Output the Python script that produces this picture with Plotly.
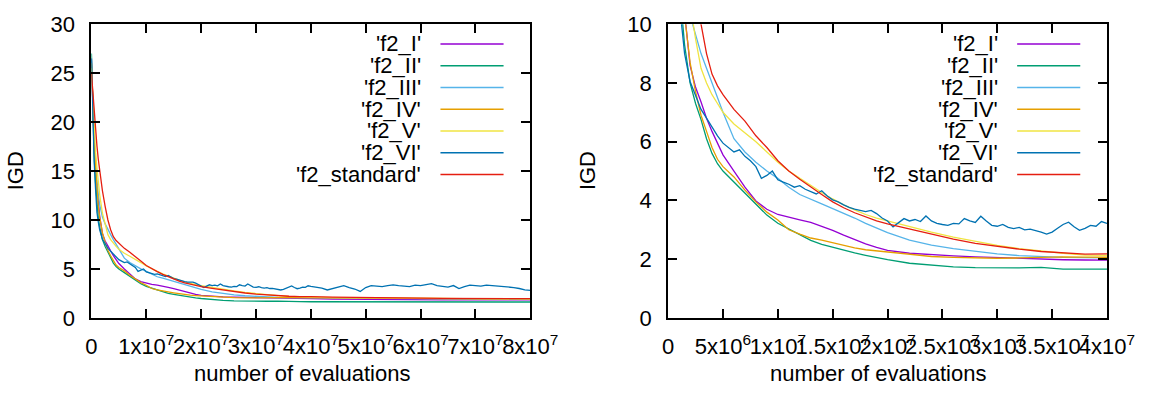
import plotly.graph_objects as go

# ---------------- data (x in millions of evaluations) ----------------
X_M = [0, 0.25, 0.5, 0.75, 1, 1.25, 1.5, 2, 2.5, 3, 3.5, 4, 4.5, 5,
       6, 7, 8, 9, 10, 11, 12, 13, 14, 15, 16, 17, 18, 19, 20,
       22, 24, 26, 28, 30, 32, 34, 36, 38, 40,
       44, 48, 52, 56, 60, 64, 68, 72, 76, 80]

F2_I = [26.5, 21.0, 17.5, 15.0, 13.2, 11.6, 10.4, 8.6, 7.85, 7.35, 6.8, 6.35, 5.95, 5.55,
        5.0, 4.45, 3.98, 3.7, 3.52, 3.42, 3.34, 3.25, 3.12, 2.98, 2.82, 2.67, 2.52, 2.4, 2.3,
        2.2, 2.15, 2.11, 2.08, 2.05, 2.02, 2.0, 1.98, 1.97, 1.97,
        1.93, 1.9, 1.88, 1.87, 1.86, 1.85, 1.85, 1.84, 1.84, 1.84]

F2_II = [27.0, 20.5, 16.5, 13.8, 11.4, 10.2, 9.3, 8.0, 7.3, 6.75, 6.1, 5.6, 5.25, 5.0,
         4.62, 4.25, 3.85, 3.5, 3.22, 3.02, 2.82, 2.64, 2.5, 2.4, 2.3, 2.21, 2.13, 2.05, 1.98,
         1.86, 1.79, 1.74, 1.71, 1.7, 1.7, 1.72, 1.66, 1.66, 1.65,
         1.65, 1.64, 1.64, 1.63, 1.63, 1.63, 1.62, 1.62, 1.62, 1.62]

F2_III = [26.0, 21.5, 18.0, 15.5, 13.8, 12.6, 11.6, 10.3, 9.6, 9.0, 8.5, 8.0, 7.5, 7.0,
          6.1, 5.65, 5.3, 5.0, 4.75, 4.45, 4.2, 4.05, 3.88, 3.72, 3.57, 3.4, 3.22, 3.05, 2.9,
          2.65, 2.48, 2.36, 2.26, 2.18, 2.12, 2.08, 2.06, 2.05, 2.04,
          2.0, 1.97, 1.95, 1.94, 1.93, 1.92, 1.92, 1.91, 1.9, 1.9]

F2_IV = [26.0, 21.5, 18.0, 15.5, 13.2, 11.4, 10.3, 8.7, 7.7, 6.9, 6.35, 5.8, 5.4, 5.15,
         4.8, 4.35, 3.95, 3.6, 3.33, 3.0, 2.85, 2.72, 2.65, 2.56, 2.46, 2.38, 2.32, 2.28, 2.24,
         2.15, 2.09, 2.06, 2.04, 2.03, 2.04, 2.06, 2.08, 2.07, 2.06,
         2.03, 2.0, 1.98, 1.97, 1.96, 1.95, 1.95, 1.94, 1.94, 1.94]

F2_V = [25.5, 22.5, 19.5, 17.0, 15.3, 13.8, 12.6, 10.7, 9.5, 8.5, 8.0, 7.6, 7.3, 7.0,
        6.6, 6.3, 6.0, 5.65, 5.3, 5.0, 4.75, 4.5, 4.27, 4.05, 3.85, 3.68, 3.52, 3.4, 3.3,
        3.1, 2.92, 2.75, 2.6, 2.47, 2.36, 2.27, 2.2, 2.14, 2.12,
        2.07, 2.04, 2.02, 2.0, 1.99, 1.98, 1.97, 1.97, 1.96, 1.95]

F2_STANDARD = [25.0, 23.0, 21.0, 19.3, 17.6, 16.2, 15.0, 13.0, 11.4, 10.0, 9.0, 8.3, 7.9, 7.6,
               7.1, 6.7, 6.2, 5.8, 5.35, 5.0, 4.72, 4.45, 4.2, 3.95, 3.75, 3.58, 3.43, 3.3, 3.2,
               3.02, 2.85, 2.68, 2.54, 2.43, 2.34, 2.26, 2.21, 2.17, 2.18,
               2.12, 2.08, 2.05, 2.03, 2.02, 2.0, 2.0, 1.98, 1.97, 1.96]

# f2_VI is noisy, sampled more densely
VI_X_M = ([0, 0.25, 0.5, 0.75, 1, 1.25, 1.5, 2, 2.5, 3, 3.5]
          + [4 + 0.5 * i for i in range(73)]
          + [41 + i for i in range(40)])
F2_VI = [26.5, 20.0, 16.0, 13.2, 10.8, 9.8, 9.0, 8.05, 7.55, 7.1, 6.8,
         6.5, 6.2, 5.95, 5.8, 5.65, 5.72, 5.5, 5.35, 5.15, 4.75, 4.85, 5.0, 4.7, 4.62,
         4.55, 4.45, 4.5, 4.38, 4.3, 4.22, 4.33, 4.15, 4.02, 3.95, 3.85, 3.76, 3.7, 3.65,
         3.62, 3.66, 3.55, 3.4, 3.3, 3.1, 3.25, 3.38, 3.3, 3.35, 3.28, 3.47, 3.3, 3.22,
         3.18, 3.15, 3.22, 3.2, 3.38, 3.3, 3.25, 3.46, 3.3, 3.15, 3.12, 3.18, 3.08, 3.04,
         3.08, 3.0, 3.02, 2.98, 2.92, 2.85, 2.92, 3.05, 3.18, 3.26, 3.1, 2.98, 3.05, 3.15,
         3.12, 3.28, 3.22,
         3.15, 3.05, 2.85, 3.0, 3.2, 3.3, 3.1, 2.95, 2.7, 3.1, 3.3, 3.25, 3.2, 3.3, 3.38,
         3.3, 3.22, 3.2, 3.35, 3.3, 3.4, 3.5, 3.3, 3.2, 3.15, 3.3, 3.0, 3.2, 3.35, 3.3,
         3.25, 3.35, 3.3, 3.3, 3.22, 3.2, 3.1, 3.0, 2.85, 2.8]

SERIES_NAMES = ["'f2_I'", "'f2_II'", "'f2_III'", "'f2_IV'", "'f2_V'", "'f2_VI'", "'f2_standard'"]
SERIES_COLORS = ["#9400d3", "#009e73", "#56b4e9", "#e69f00", "#f0e442", "#0072b2", "#e51e10"]

LEFT_TICKVALS = [0, 1e7, 2e7, 3e7, 4e7, 5e7, 6e7, 7e7, 8e7]
LEFT_TICKTEXT = ["0", "1x10<sup>7</sup>", "2x10<sup>7</sup>", "3x10<sup>7</sup>", "4x10<sup>7</sup>",
                 "5x10<sup>7</sup>", "6x10<sup>7</sup>", "7x10<sup>7</sup>", "8x10<sup>7</sup>"]
RIGHT_TICKVALS = [0, 5e6, 1e7, 1.5e7, 2e7, 2.5e7, 3e7, 3.5e7, 4e7]
RIGHT_TICKTEXT = ["0", "5x10<sup>6</sup>", "1x10<sup>7</sup>", "1.5x10<sup>7</sup>", "2x10<sup>7</sup>",
                  "2.5x10<sup>7</sup>", "3x10<sup>7</sup>", "3.5x10<sup>7</sup>", "4x10<sup>7</sup>"]

X_TITLE = "number of evaluations"
Y_TITLE = "IGD"

# ---------------- figure ----------------
W, H = 1167, 405
FONT = "Liberation Sans, Arial, sans-serif"
FS = 22

series = [
    (X_M, F2_I), (X_M, F2_II), (X_M, F2_III), (X_M, F2_IV), (X_M, F2_V),
    (VI_X_M, F2_VI), (X_M, F2_STANDARD),
]

fig = go.Figure()
for (xs, ys), name, col in zip(series, SERIES_NAMES, SERIES_COLORS):
    xv = [v * 1e6 for v in xs]
    for xa, ya in (("x", "y"), ("x2", "y2")):
        fig.add_trace(go.Scatter(x=xv, y=ys, mode="lines", name=name, xaxis=xa, yaxis=ya,
                                 line=dict(color=col, width=1.3), showlegend=False,
                                 hoverinfo="skip"))

# frame positions (px)
L0, L1 = 88, 540
R0, R1 = 682, 1134
TOP, BOT = 13, 326

def px_x(p):
    return p / W

def px_y(p):
    return 1 - p / H

common_axis = dict(showline=True, linecolor="black", linewidth=2, mirror="allticks",
                   ticks="inside", ticklen=9, tickwidth=1.5, tickcolor="black",
                   showgrid=False, zeroline=False,
                   tickfont=dict(family=FONT, size=FS, color="black"))

fig.update_layout(
    width=W, height=H,
    margin=dict(l=0, r=0, t=0, b=0),
    paper_bgcolor="white", plot_bgcolor="white",
    font=dict(family=FONT, size=FS, color="black"),
    xaxis=dict(domain=[px_x(L0), px_x(L1)], range=[0, 8e7], tickmode="array",
               tickvals=LEFT_TICKVALS, ticktext=LEFT_TICKTEXT, tickangle=0,
               ticklabelstandoff=8, anchor="y", **common_axis),
    yaxis=dict(domain=[px_y(BOT), px_y(TOP)], range=[0, 30], tickmode="linear",
               tick0=0, dtick=5, ticklabelstandoff=10, anchor="x", **common_axis),
    xaxis2=dict(domain=[px_x(R0), px_x(R1)], range=[0, 4e7], tickmode="array",
                tickvals=RIGHT_TICKVALS, ticktext=RIGHT_TICKTEXT, tickangle=0,
                ticklabelstandoff=8, anchor="y2", **common_axis),
    yaxis2=dict(domain=[px_y(BOT), px_y(TOP)], range=[0, 10], tickmode="linear",
                tick0=0, dtick=2, ticklabelstandoff=10, anchor="x2", **common_axis),
)

# axis titles
for cx, ix in ((305, 10), (898, 599)):
    fig.add_annotation(x=px_x(cx), y=px_y(385), xref="paper", yref="paper",
                       text=X_TITLE, showarrow=False, xanchor="center", yanchor="middle",
                       font=dict(family=FONT, size=FS, color="black"))
    fig.add_annotation(x=px_x(ix), y=px_y(169), xref="paper", yref="paper",
                       text=Y_TITLE, showarrow=False, textangle=-90,
                       xanchor="center", yanchor="middle",
                       font=dict(family=FONT, size=FS, color="black"))

# keys (gnuplot style: right-aligned text, sample line on the right)
FRAME_W = L1 - L0
FRAME_H = BOT - TOP
for xd, yd in (("x domain", "y domain"), ("x2 domain", "y2 domain")):
    for i, (name, col) in enumerate(zip(SERIES_NAMES, SERIES_COLORS)):
        yc = 1 - (21 + i * 23.2) / FRAME_H
        fig.add_annotation(x=1 - 110 / FRAME_W, y=yc, xref=xd, yref=yd, text=name,
                           showarrow=False, xanchor="right", yanchor="middle",
                           font=dict(family=FONT, size=FS, color="black"))
        fig.add_shape(type="line", xref=xd, yref=yd,
                      x0=1 - 92.5 / FRAME_W, x1=1 - 27.5 / FRAME_W, y0=yc, y1=yc,
                      line=dict(color=col, width=1.5))

fig.write_html("out.html")
